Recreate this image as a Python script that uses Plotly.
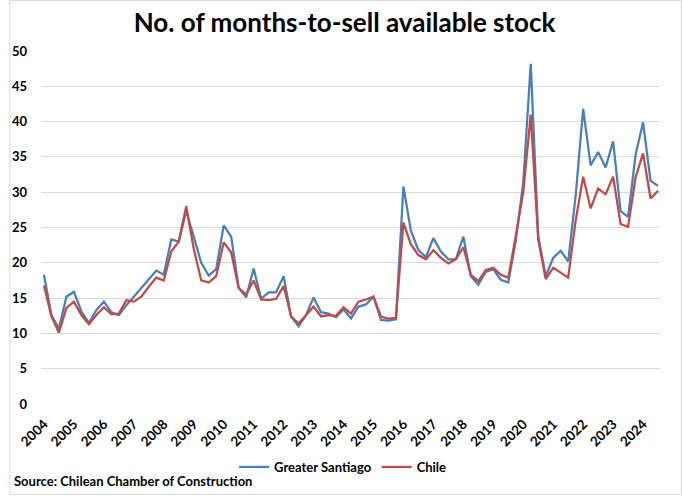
import plotly.graph_objects as go

years = list(range(2004, 2025))
quarters = [f"{y} Q{q}" for y in years for q in range(1, 5)][:83]

greater_santiago = [
    18.3, 12.6, 10.7, 15.2, 15.9, 13.1, 11.5, 13.3, 14.5, 13.0,
    12.6, 14.0, 15.2, 16.4, 17.6, 18.9, 18.3, 23.3, 23.0, 27.3,
    23.7, 20.0, 18.2, 19.1, 25.3, 23.7, 16.5, 15.1, 19.2, 14.9,
    15.8, 15.8, 18.1, 12.4, 11.0, 12.6, 15.1, 13.0, 12.8, 12.3,
    13.4, 12.1, 13.8, 14.1, 15.2, 11.9, 11.8, 12.0, 30.8, 24.5,
    21.8, 20.8, 23.5, 21.6, 20.5, 20.5, 23.7, 18.1, 16.9, 18.7,
    19.1, 17.6, 17.2, 23.1, 31.4, 48.2, 23.8, 18.1, 20.7, 21.7,
    20.2, 29.5, 41.8, 33.8, 35.7, 33.5, 37.2, 27.3, 26.5, 35.3,
    39.9, 31.6, 30.9,
]

chile = [
    16.8, 12.4, 10.1, 13.6, 14.5, 12.6, 11.3, 12.6, 13.7, 12.7,
    12.8, 14.7, 14.5, 15.2, 16.6, 17.9, 17.5, 21.6, 23.0, 28.0,
    22.0, 17.5, 17.2, 18.1, 22.9, 21.5, 16.4, 15.5, 17.5, 14.8,
    14.7, 14.9, 16.7, 12.4, 11.4, 12.6, 13.8, 12.4, 12.6, 12.5,
    13.7, 12.8, 14.5, 14.8, 15.2, 12.4, 12.1, 12.2, 25.7, 22.6,
    21.1, 20.5, 21.8, 20.7, 19.9, 20.5, 22.2, 18.3, 17.4, 19.0,
    19.3, 18.3, 17.9, 23.8, 30.0, 41.0, 23.3, 17.7, 19.3, 18.6,
    17.9, 26.0, 32.2, 27.7, 30.5, 29.7, 32.2, 25.5, 25.1, 32.1,
    35.5, 29.1, 30.2,
]

tick_vals = [f"{y} Q1" for y in years]
tick_text = [str(y) for y in years]
y_ticks = list(range(0, 51, 5))

FONT = "Lato"
W, H = 683, 496
ML, MR, MT, MB = 33, 23, 51, 92
PW, PH = W - ML - MR, H - MT - MB

fig = go.Figure()
fig.add_trace(go.Scatter(x=quarters, y=greater_santiago, mode="lines",
                         name="Greater Santiago",
                         line=dict(color="#4A7EBB", width=2.25)))
fig.add_trace(go.Scatter(x=quarters, y=chile, mode="lines", name="Chile",
                         line=dict(color="#BE4B48", width=2.25)))

fig.update_layout(
    width=W, height=H,
    margin=dict(l=ML, r=MR, t=MT, b=MB),
    paper_bgcolor="white", plot_bgcolor="white",
    font=dict(family=FONT, color="black", size=12),
    title=dict(text="No. of months-to-sell available stock",
               font=dict(family=FONT, size=26, weight="bold", color="black"),
               x=(340 - ML) / PW, xanchor="center", xref="paper",
               y=1 - 23 / H, yanchor="middle"),
    showlegend=True,
    legend=dict(orientation="h", x=(338 - ML) / PW, xanchor="center",
                y=-(467 - (MT + PH)) / PH, yanchor="middle",
                font=dict(family=FONT, size=13, weight="bold"),
                itemwidth=30, tracegroupgap=0, bgcolor="rgba(0,0,0,0)"),
    xaxis=dict(type="category", categoryorder="array", categoryarray=quarters,
               range=[-0.26, len(quarters) - 1 + 0.26],
               tickmode="array", tickvals=tick_vals, ticktext=tick_text,
               tickangle=-45, showgrid=False, zeroline=False,
               showline=False, ticks="outside", ticklen=6,
               tickcolor="rgba(0,0,0,0)",
               tickfont=dict(family=FONT, size=13.5, weight="bold")),
    yaxis=dict(range=[0, 50], tickmode="array", tickvals=y_ticks,
               showgrid=True, gridcolor="#D9D9D9", gridwidth=1,
               zeroline=False, showline=False, ticks="",
               ticklabelstandoff=14,
               tickfont=dict(family=FONT, size=13, weight="bold")),
)

fig.add_annotation(text="Source: Chilean Chamber of Construction",
                   xref="paper", yref="paper",
                   x=-(ML - 3) / PW, y=-(481 - (MT + PH)) / PH,
                   xanchor="left", yanchor="middle", showarrow=False,
                   font=dict(family=FONT, size=13, weight="bold", color="black"))

fig.add_shape(type="rect", xref="paper", yref="paper",
              x0=-(ML - 0.5) / PW, x1=1 + (MR - 1.5) / PW,
              y0=-(MB - 1.5) / PH, y1=1 + (MT - 0.5) / PH,
              line=dict(color="#D9D9D9", width=1), fillcolor="rgba(0,0,0,0)",
              layer="below")

fig.write_html("out.html")
